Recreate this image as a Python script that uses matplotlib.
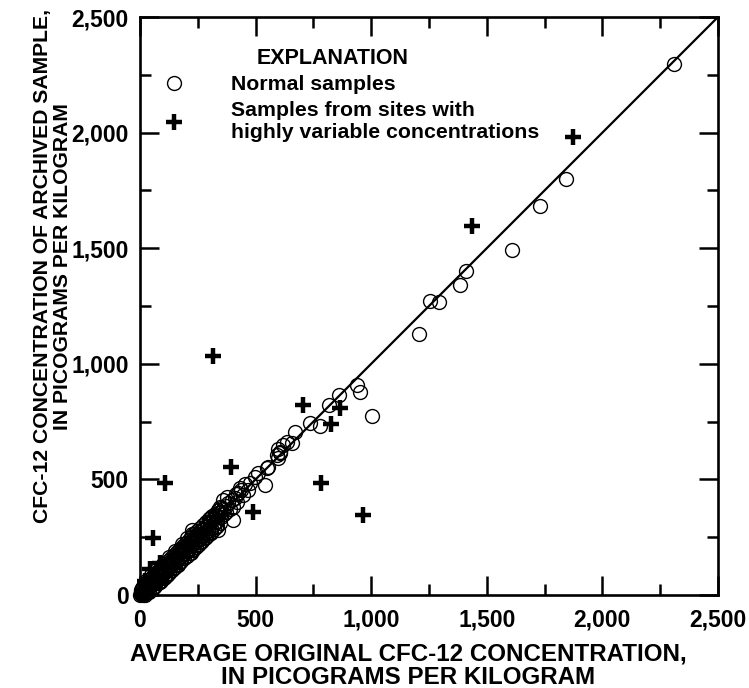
"""
CFC-12 archived vs. original concentration (picograms per kilogram)
"""
import matplotlib
matplotlib.use("Agg")
import matplotlib.pyplot as plt
from matplotlib.lines import Line2D
from matplotlib.ticker import MultipleLocator, FuncFormatter

plt.rcParams["font.family"] = ["Liberation Sans", "DejaVu Sans"]
plt.rcParams["font.weight"] = "bold"

# ── Data ──────────────────────────────────────────────────────────────────
# Normal samples: average original (x) vs archived (y)
normal_x = [2310, 1841, 1729, 1610, 1409, 1384, 1254, 1292, 1208, 1005, 951, 937,
            862, 817, 779, 735, 670, 656, 634, 598, 606, 591, 619, 606, 598, 554,
            548, 541, 511, 497, 476, 432, 403, 376, 346, 360, 401, 338, 303, 224,
            468, 455, 447, 438, 425, 418, 410, 396, 388, 381, 372, 365, 357, 350,
            342, 334, 327, 320, 314, 308, 301, 295, 289, 282, 276, 270, 264, 257,
            251, 246, 240, 233, 228, 222, 216, 210, 204, 199, 193, 188, 183, 177,
            172, 167, 161, 157, 152, 147, 142, 137, 133, 128, 123, 119, 114, 110,
            106, 101, 97, 93, 88, 84, 80, 76, 72, 68, 64, 61, 57, 53, 50, 46,
            43, 39, 36, 33, 30, 27, 24, 21, 18, 15, 12, 10, 7, 5, 3, 1,
            265, 244, 212, 186, 158, 131, 103, 78, 55, 34, 16, 415, 372, 318, 293,
            238, 196, 165, 139, 116, 91, 66, 44, 25, 8,
            205, 181, 153, 127, 98, 74, 48, 29, 252, 231, 174, 146, 118, 87, 62,
            38, 285, 262, 219, 192, 163, 110, 82, 58, 22, 12, 4, 330, 307, 226,
            10, 14, 20, 26, 32, 38, 45, 51, 58, 64, 70, 77, 83, 89, 96, 102,
            108, 115, 121, 127, 134, 140, 146, 153, 159, 165, 172, 178, 184, 191,
            197, 203, 210, 216, 222, 229, 235, 241, 248, 254, 260, 267, 273, 279,
            286, 292, 298, 305, 311, 318, 324, 331, 337, 344, 350,
            5, 17, 29, 41, 53, 65, 79, 91, 104, 117, 129, 142, 156, 168, 181,
            194, 207, 220, 232, 245, 258, 271, 283, 296, 309, 322, 335, 348]
normal_y = [2297, 1801, 1682, 1492, 1403, 1342, 1273, 1268, 1130, 774, 879, 908,
            865, 822, 733, 742, 707, 656, 663, 630, 620, 606, 649, 614, 592, 554,
            548, 476, 527, 512, 484, 462, 381, 424, 381, 411, 324, 281, 333, 281,
            452, 478, 431, 455, 440, 402, 421, 410, 372, 398, 384, 350, 372, 338,
            355, 322, 341, 306, 327, 290, 312, 280, 300, 268, 287, 258, 281, 244,
            266, 232, 252, 226, 240, 214, 230, 199, 218, 192, 205, 178, 197, 170,
            186, 160, 174, 150, 165, 142, 154, 132, 145, 121, 135, 113, 124, 104,
            116, 96, 107, 87, 98, 79, 90, 70, 81, 63, 72, 57, 63, 49, 56, 42,
            50, 36, 42, 30, 35, 25, 28, 19, 22, 14, 15, 9, 8, 5, 3, 1,
            248, 259, 201, 200, 147, 140, 96, 86, 49, 38, 12, 436, 358, 334, 275,
            247, 183, 176, 129, 123, 84, 71, 39, 29, 6,
            245, 222, 190, 166, 135, 112, 85, 64, 216, 198, 142, 115, 88, 58, 36,
            12, 252, 228, 183, 158, 130, 80, 56, 30, 2, 35, 20, 292, 270, 262,
            30, 0, 42, 8, 55, 18, 70, 28, 82, 40, 95, 50, 108, 60, 122, 72,
            135, 85, 148, 96, 160, 108, 172, 120, 186, 132, 198, 145, 210, 158,
            224, 170, 236, 182, 250, 196, 262, 208, 276, 220, 290, 232, 302, 246,
            314, 258, 328, 272, 340, 286, 352, 300, 366, 312, 378,
            18, 22, 35, 48, 61, 77, 88, 101, 112, 131, 139, 155, 163, 181, 190,
            209, 215, 234, 241, 259, 265, 287, 292, 313, 316, 339, 342, 361]

# Samples from sites with highly variable concentrations
variable_x = [55, 108, 317, 392, 490, 704, 785, 826, 865, 963, 1435, 1871, 42, 86, 20]
variable_y = [248, 486, 1034, 555, 359, 822, 484, 738, 807, 345, 1596, 1980, 112, 140, 62]

LIMIT = 2500

# ── Figure ────────────────────────────────────────────────────────────────
fig = plt.figure(figsize=(7.49, 6.88), dpi=100)
ax = fig.add_axes([140 / 749, 1 - 595 / 688, 578 / 749, 578 / 688])

ax.plot([0, LIMIT], [0, LIMIT], color="black", lw=1.6, zorder=1)
ax.plot(normal_x, normal_y, ls="none", marker="o", ms=10, mfc="none",
        mec="black", mew=1.0, zorder=2, clip_on=False)
ax.plot(variable_x, variable_y, ls="none", marker="+", ms=11, mec="black",
        mew=3.2, zorder=3, clip_on=False)

ax.set_xlim(0, LIMIT)
ax.set_ylim(0, LIMIT)

for axis in (ax.xaxis, ax.yaxis):
    axis.set_major_locator(MultipleLocator(500))
    axis.set_minor_locator(MultipleLocator(250))
    axis.set_major_formatter(FuncFormatter(lambda v, p: f"{int(v):,}"))
ax.tick_params(which="both", direction="in", top=True, right=True, width=1.8,
               labelsize=16.5)
ax.tick_params(which="major", length=14)
ax.tick_params(which="minor", length=8)
ax.tick_params(axis="x", pad=10)
ax.tick_params(axis="y", pad=8)
for s in ax.spines.values():
    s.set_linewidth(1.9)

ax.set_xlabel("AVERAGE ORIGINAL CFC-12 CONCENTRATION,\nIN PICOGRAMS PER KILOGRAM",
              fontsize=17.4, fontweight="bold", linespacing=1.05, va="top")
ax.xaxis.set_label_coords(0.4637, -0.082)
ax.set_ylabel("CFC-12 CONCENTRATION OF ARCHIVED SAMPLE,\nIN PICOGRAMS PER KILOGRAM",
              fontsize=15.2, fontweight="bold", linespacing=1.05)
ax.yaxis.set_label_coords(-0.118, 0.569)

# ── Explanation (legend) ──────────────────────────────────────────────────
ax.text(0.334, 0.928, "EXPLANATION", transform=ax.transAxes, ha="center",
        va="center", fontsize=15.5, fontweight="bold")
handles = [
    Line2D([], [], ls="none", marker="o", ms=10, mfc="none", mec="black", mew=1.0),
    Line2D([], [], ls="none", marker="+", ms=11, mec="black", mew=3.2),
]
labels = ["Normal samples", "Samples from sites with\nhighly variable concentrations"]
leg = ax.legend(handles, labels, loc="upper left",
                bbox_to_anchor=(0.0148, 0.925), frameon=False, fontsize=15.3,
                handlelength=1.0, handletextpad=2.2, labelspacing=0.3,
                borderpad=0.2)
for t in leg.get_texts():
    t.set_fontweight("bold")
    t.set_linespacing(1.25)

fig.savefig("out.png", dpi=100)
